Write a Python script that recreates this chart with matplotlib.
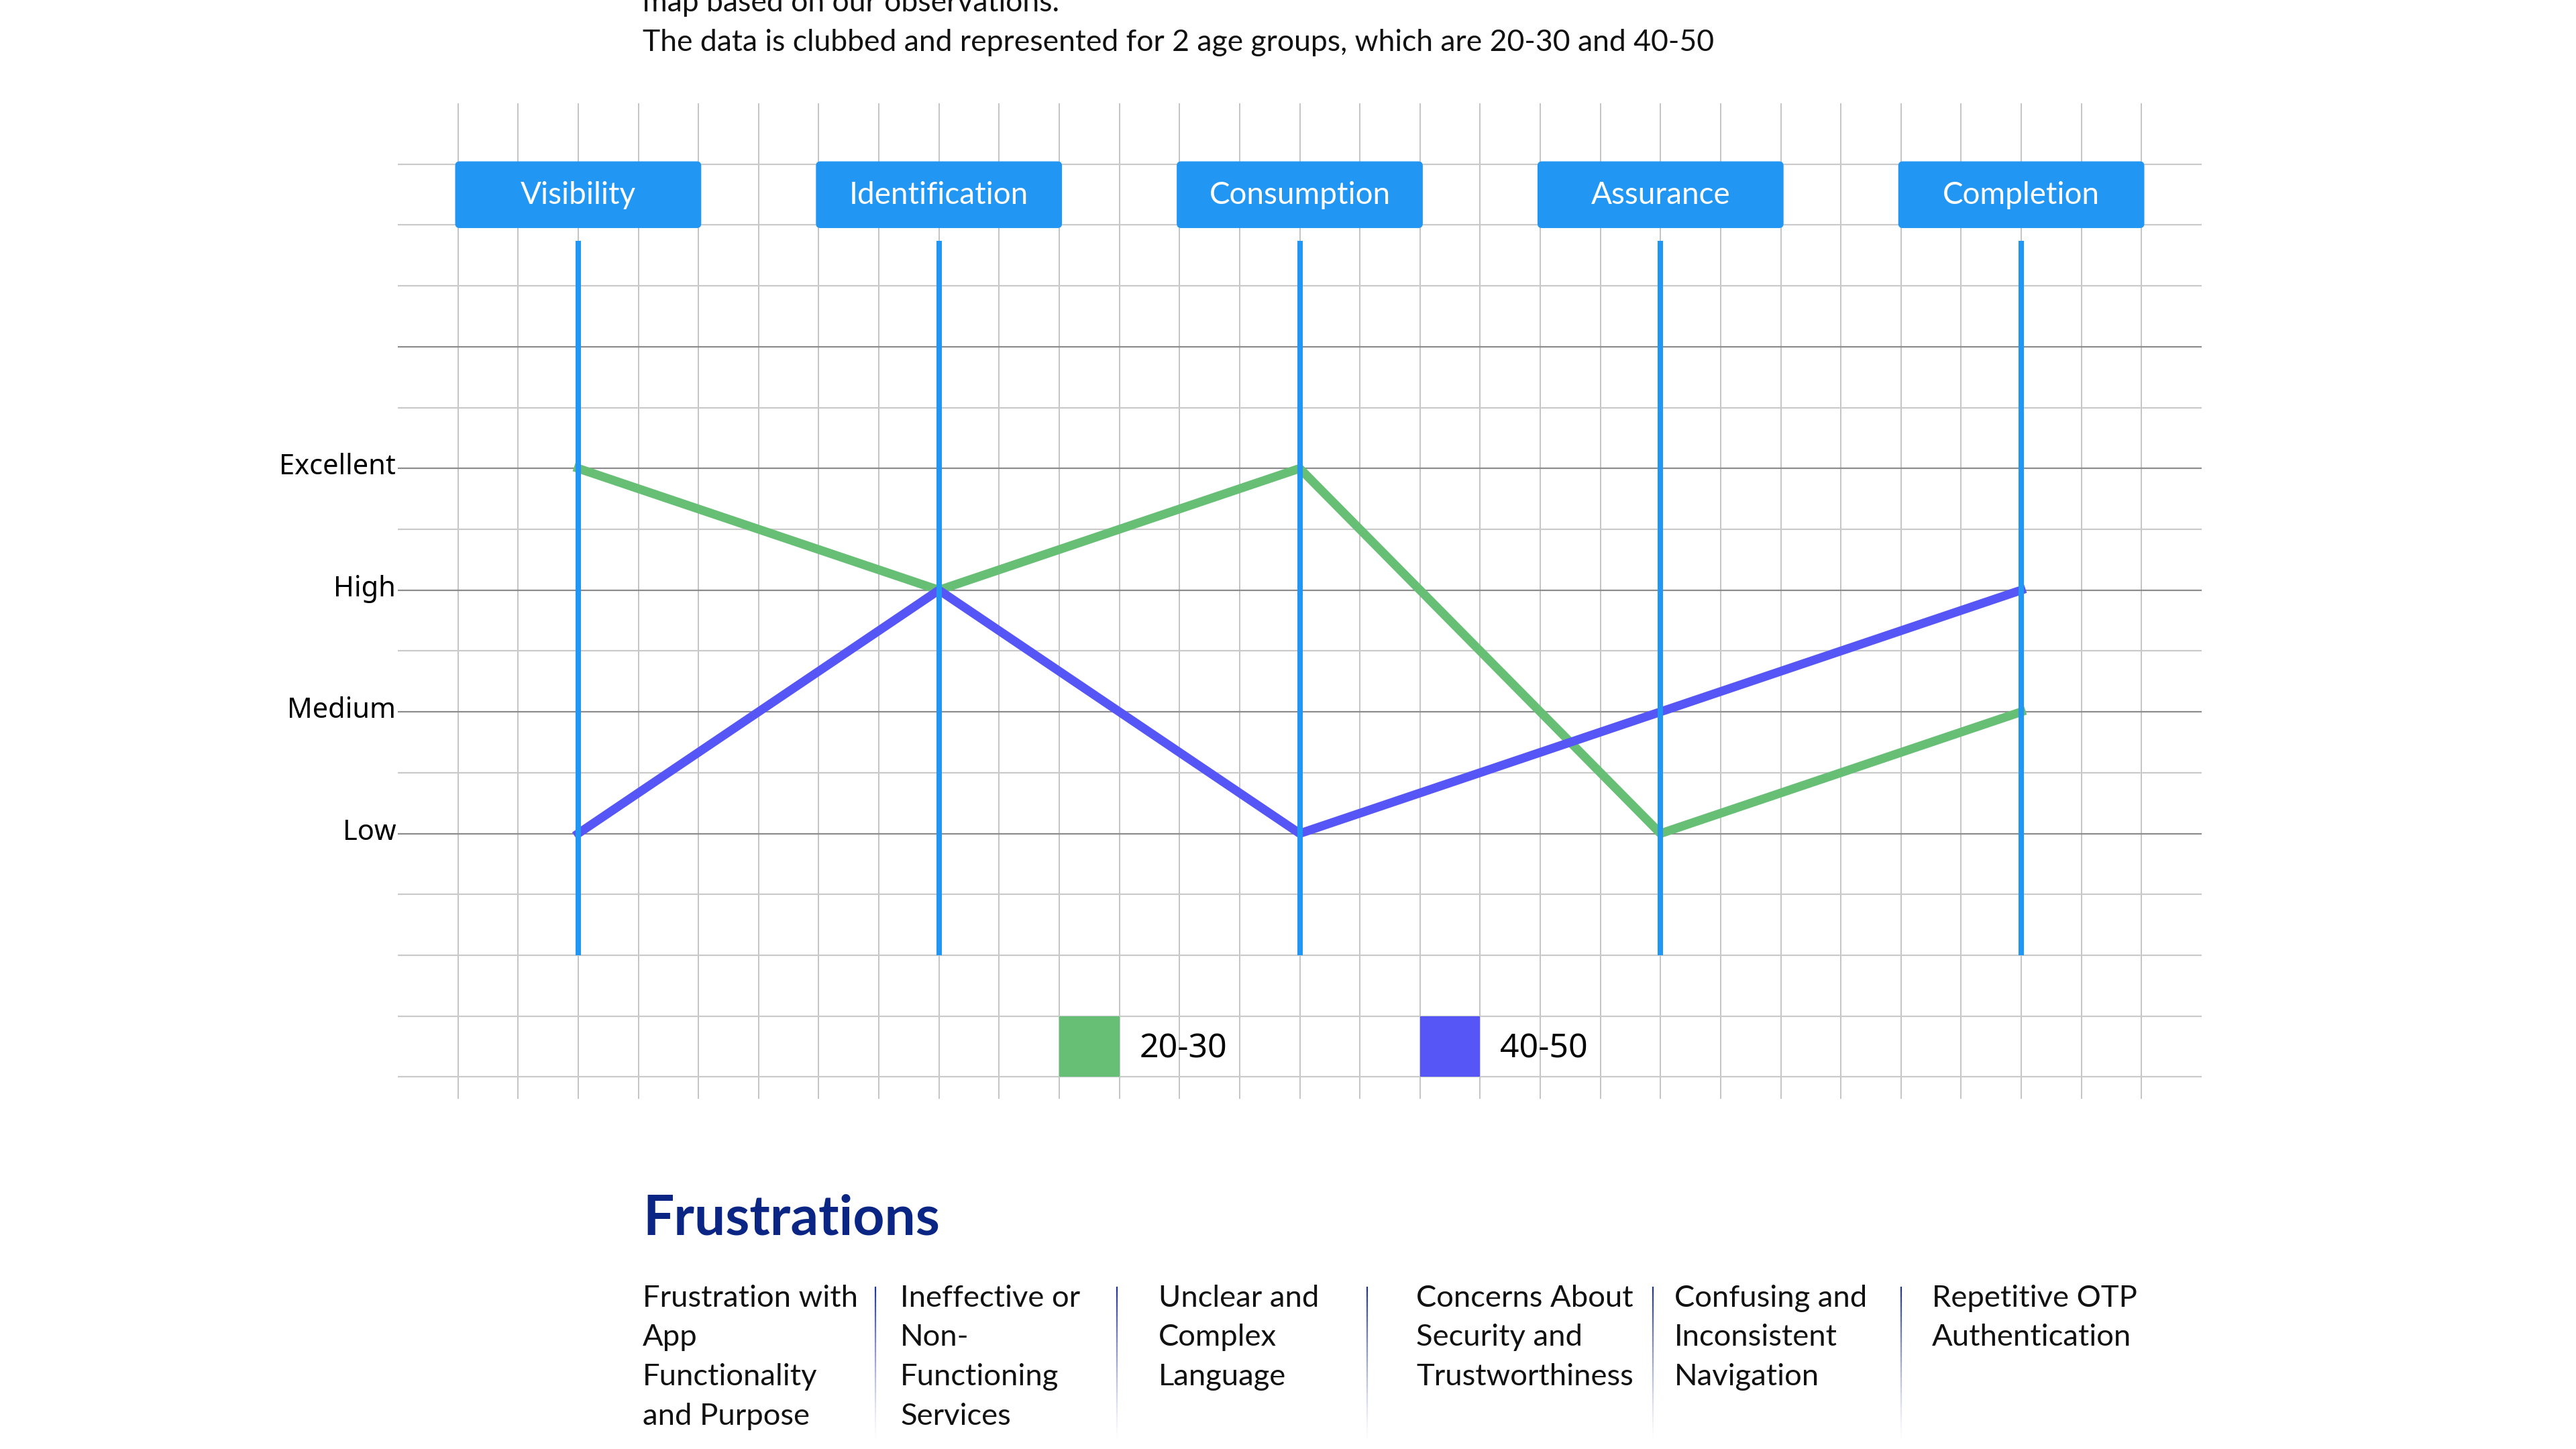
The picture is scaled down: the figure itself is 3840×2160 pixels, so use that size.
import numpy as np
import matplotlib.pyplot as plt
from matplotlib.patches import FancyBboxPatch, Rectangle
from matplotlib.transforms import ScaledTranslation

# data
stages = ['Visibility', 'Identification', 'Consumption', 'Assurance', 'Completion']
level_labels = ['Low', 'Medium', 'High', 'Excellent']
level_values = [1, 2, 3, 4]
age_groups = ['20-30', '40-50']
scores_20_30 = [4, 3, 4, 1, 2]
scores_40_50 = [1, 3, 1, 2, 3]
series_colors = ['#66bf74', '#5656f6']

intro_lines = ['map based on our observations.',
               'The data is clubbed and represented for 2 age groups, which are 20-30 and 40-50']
frustrations_title = 'Frustrations'
frustrations = ['Frustration with\nApp\nFunctionality\nand Purpose',
                'Ineffective or\nNon-\nFunctioning\nServices',
                'Unclear and\nComplex\nLanguage',
                'Concerns About\nSecurity and\nTrustworthiness',
                'Confusing and\nInconsistent\nNavigation',
                'Repetitive OTP\nAuthentication']

W, H = 3840, 2160
blue = '#2196f3'
navy = '#0b2584'
body_font = ['Lato', 'DejaVu Sans']
label_font = ['Noto Sans', 'DejaVu Sans']

fig = plt.figure(figsize=(W / 100, H / 100), dpi=100)
fig.patch.set_facecolor('white')

# main chart, one x unit per stage, one y unit per level
ax = fig.add_axes([593 / W, 1 - 1638 / H, (3282 - 593) / W, (1638 - 154) / H])
ax.set_xlim(-0.5, 4.5)
ax.set_ylim(-1.18, 7.0)
for s in ax.spines.values():
    s.set_visible(False)

# squared paper background
for k in range(-2, 27):
    ax.axvline(k / 6, color='#b4b4b4', lw=1.1, zorder=0)
for y in np.arange(-1, 7, 0.5):
    dark = float(y).is_integer() and 1 <= y <= 5
    ax.axhline(y, color='#8c8c8c' if dark else '#cacaca', lw=1.6, zorder=0)

x = np.arange(len(stages))
ax.plot(x, scores_20_30, color=series_colors[0], lw=9.4, zorder=2, solid_joinstyle='round')
ax.plot(x, scores_40_50, color=series_colors[1], lw=9.4, zorder=2, solid_joinstyle='round')
ax.vlines(x, 0, 5.87, color=blue, lw=5.8, zorder=3)

# stage header boxes
asp = 537.8 / 181.4
for i, name in enumerate(stages):
    ax.add_patch(FancyBboxPatch((i - 0.341, 5.975), 0.682, 0.548,
                                boxstyle='round,pad=0,rounding_size=0.012',
                                mutation_aspect=asp, fc=blue, ec='none', zorder=4))
    ax.text(i, 6.245, name, ha='center', va='center', color='white',
            fontsize=33, family=body_font, zorder=5)

ax.set_xticks([])
ax.set_yticks(level_values, level_labels, fontsize=30, family=label_font)
ax.tick_params(axis='y', length=0, pad=2)
for lab in ax.get_yticklabels():
    lab.set_transform(lab.get_transform() + ScaledTranslation(0, 5 / 72, fig.dpi_scale_trans))

# legend drawn on the grid cells
for j, (label, color) in enumerate(zip(age_groups, series_colors)):
    x0 = j + 1 + 2 / 6
    ax.add_patch(Rectangle((x0, -1.0), 1 / 6, 0.5, fc=color, ec='none', zorder=3))
    ax.text(x0 + 1 / 6 + 0.055, -0.77, label, va='center', ha='left',
            fontsize=36, family=label_font, zorder=5)

# overlay in pixel coordinates for the page text
ov = fig.add_axes([0, 0, 1, 1])
ov.set_xlim(0, W)
ov.set_ylim(H, 0)
ov.axis('off')

for k, line in enumerate(intro_lines):
    ov.text(958, 17 + 59 * k, line, va='baseline', ha='left', fontsize=32,
            family=body_font, color='#111111')

ov.text(958, 1817, frustrations_title, va='center', ha='left', fontsize=59,
        fontweight='bold', family=body_font, color=navy)

col_x = [958, 1342, 1727, 2111, 2496, 2880]
for cx, item in zip(col_x, frustrations):
    for k, line in enumerate(item.split('\n')):
        ov.text(cx, 1935 + 58.8 * k, line, va='center', ha='left', fontsize=32.7,
                family=body_font, color='#111111')

sep_x = [1305, 1665, 2038, 2464, 2834]
ys = np.linspace(1918, 2143, 31)
for sx in sep_x:
    for a in range(len(ys) - 1):
        alpha = max(0.05, 1 - a / (len(ys) - 1)) ** 1.3
        ov.plot([sx, sx], [ys[a], ys[a + 1]], color='#1f3596', lw=1.6,
                alpha=alpha, solid_capstyle='butt')

fig.savefig('out.png', dpi=100, facecolor='white')
